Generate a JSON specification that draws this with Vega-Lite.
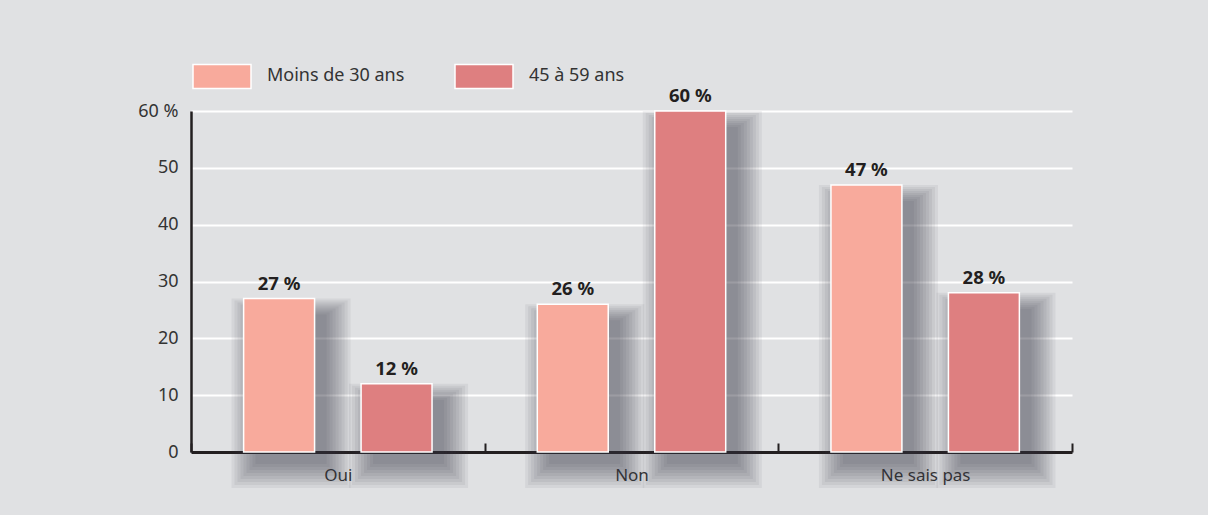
{
  "$schema": "https://vega.github.io/schema/vega-lite/v6.json",
  "width": 881,
  "height": 341,
  "autosize": {"type": "none"},
  "padding": {"left": 191, "top": 111, "right": 136, "bottom": 63},
  "background": "#e0e1e3",
  "config": {
    "view": {"stroke": null},
    "font": "Noto Sans"
  },
  "data": {
    "values": [
      {"reponse": "Oui", "age": "Moins de 30 ans", "pct": 27},
      {"reponse": "Oui", "age": "45 à 59 ans", "pct": 12},
      {"reponse": "Non", "age": "Moins de 30 ans", "pct": 26},
      {"reponse": "Non", "age": "45 à 59 ans", "pct": 60},
      {"reponse": "Ne sais pas", "age": "Moins de 30 ans", "pct": 47},
      {"reponse": "Ne sais pas", "age": "45 à 59 ans", "pct": 28}
    ]
  },
  "transform": [{"calculate": "datum.pct + ' %'", "as": "etiquette"}],
  "encoding": {
    "x": {
      "field": "reponse",
      "type": "nominal",
      "sort": ["Oui", "Non", "Ne sais pas"],
      "scale": {"paddingInner": 0, "paddingOuter": 0},
      "axis": {
        "title": null,
        "labelAngle": 0,
        "domainColor": "#231f20",
        "domainWidth": 3,
        "tickBand": "extent",
        "tickSize": -9,
        "tickWidth": 2,
        "tickColor": "#231f20",
        "labelFontSize": 17,
        "labelColor": "#333333",
        "labelPadding": 24,
        "grid": false
      }
    },
    "y": {
      "field": "pct",
      "type": "quantitative",
      "scale": {"domain": [0, 60], "nice": false},
      "axis": {
        "title": null,
        "values": [0, 10, 20, 30, 40, 50, 60],
        "ticks": false,
        "domainColor": "#231f20",
        "domainWidth": 2.5,
        "gridColor": "#ffffff",
        "gridWidth": 2,
        "labelFontSize": 18,
        "labelColor": "#333333",
        "labelPadding": 13,
        "labelExpr": "datum.value == 60 ? '60 %' : datum.label"
      }
    }
  },
  "layer": [
    {
      "layer": [
        {"mark": {"type": "bar", "color": "#3a3c44", "opacity": 0.07, "width": 71, "yOffset": 16, "y2Offset": 12}},
        {"mark": {"type": "bar", "color": "#3a3c44", "opacity": 0.07, "width": 77, "yOffset": 14, "y2Offset": 15}},
        {"mark": {"type": "bar", "color": "#3a3c44", "opacity": 0.07, "width": 83, "yOffset": 12, "y2Offset": 18}},
        {"mark": {"type": "bar", "color": "#3a3c44", "opacity": 0.07, "width": 89, "yOffset": 10, "y2Offset": 21}},
        {"mark": {"type": "bar", "color": "#3a3c44", "opacity": 0.07, "width": 95, "yOffset": 8, "y2Offset": 24}},
        {"mark": {"type": "bar", "color": "#3a3c44", "opacity": 0.07, "width": 101, "yOffset": 6, "y2Offset": 27}},
        {"mark": {"type": "bar", "color": "#3a3c44", "opacity": 0.07, "width": 107, "yOffset": 4, "y2Offset": 30}},
        {"mark": {"type": "bar", "color": "#3a3c44", "opacity": 0.07, "width": 113, "yOffset": 2, "y2Offset": 33}},
        {"mark": {"type": "bar", "color": "#3a3c44", "opacity": 0.07, "width": 119, "yOffset": 0, "y2Offset": 36}}
      ],
      "encoding": {
        "xOffset": {
          "field": "age",
          "type": "nominal",
          "sort": ["Moins de 30 ans", "45 à 59 ans"],
          "scale": {"paddingInner": 0.396, "paddingOuter": 0.448, "align": 0.614}
        },
        "y2": {"datum": 0}
      }
    },
    {
      "layer": [
        {
          "mark": {"type": "bar", "stroke": "#ffffff", "strokeWidth": 1.5, "opacity": 1},
          "encoding": {
            "color": {
              "field": "age",
              "type": "nominal",
              "sort": ["Moins de 30 ans", "45 à 59 ans"],
              "scale": {"domain": ["Moins de 30 ans", "45 à 59 ans"], "range": ["#f8aa9c", "#de7f80"]},
              "legend": {
                "orient": "none",
                "legendX": 1,
                "legendY": -65,
                "direction": "horizontal",
                "title": null,
                "symbolType": "M-1,-0.414H1V0.414H-1Z",
                "symbolSize": 3364,
                "symbolStrokeColor": "#ffffff",
                "symbolStrokeWidth": 1.5,
                "symbolOpacity": 1,
                "labelFontSize": 18,
                "labelColor": "#333333",
                "labelOffset": 15,
                "columnPadding": 47
              }
            }
          }
        },
        {
          "mark": {"type": "text", "baseline": "alphabetic", "dy": -9, "fontSize": 18.5, "fontWeight": "bold", "color": "#231f20"},
          "encoding": {"text": {"field": "etiquette", "type": "nominal"}}
        }
      ],
      "encoding": {
        "xOffset": {
          "field": "age",
          "type": "nominal",
          "sort": ["Moins de 30 ans", "45 à 59 ans"],
          "scale": {"paddingInner": 0.396, "paddingOuter": 0.448}
        }
      }
    }
  ],
  "resolve": {"scale": {"xOffset": "independent"}}
}
